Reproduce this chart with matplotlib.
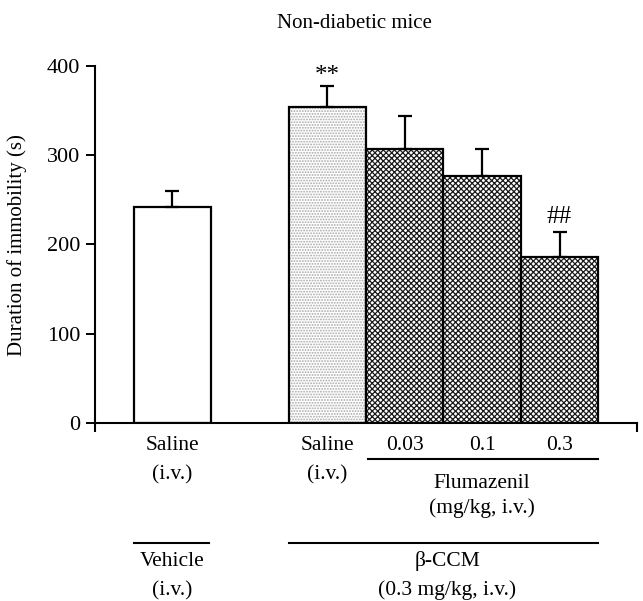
import matplotlib
matplotlib.use('Agg')
import matplotlib.pyplot as plt

plt.rcParams['font.family'] = ['Liberation Serif', 'DejaVu Serif']
plt.rcParams['hatch.linewidth'] = 0.9

# ---- data ----
positions = [0, 2, 3, 4, 5]
means = [242, 354, 307, 277, 186]
sems = [18, 24, 37, 30, 28]
tick_top = ['Saline', 'Saline', '0.03', '0.1', '0.3']
tick_bottom = ['(i.v.)', '(i.v.)', '', '', '']
marks = ['', '**', '', '', '##']
yticks = [0, 100, 200, 300, 400]

# ---- styling ----
hatches = ['', '......', 'xxxxxx', 'xxxxxx', 'xxxxxx']
hatch_colors = ['white', '#a8a8a8', '#1a1a1a', '#1a1a1a', '#1a1a1a']
mark_gap = {'**': 11, '##': 17}

fig = plt.figure(figsize=(6.43, 6.01), dpi=100)
ax = fig.add_axes([95/643, 178/601, 542/643, 357/601])

for x, m, h, hc in zip(positions, means, hatches, hatch_colors):
    ax.bar(x, m, width=1.0, color='white', edgecolor=hc, hatch=h, linewidth=0, zorder=2)
    ax.bar(x, m, width=1.0, color='none', edgecolor='black', linewidth=1.6, zorder=3)

ax.errorbar(positions, means, yerr=[[0]*len(sems), sems], fmt='none', ecolor='black',
            elinewidth=1.6, capsize=4.8, capthick=1.6, zorder=4)

for x, m, s, t in zip(positions, means, sems, marks):
    if t:
        ax.text(x, m + s + mark_gap[t], t, ha='center', va='center', fontsize=18)

ax.set_xlim(-1, 6)
ax.set_ylim(0, 400)
ax.set_yticks(yticks)
ax.set_xticks([])
ax.tick_params(axis='y', direction='out', length=6.5, width=1.4, labelsize=16, pad=4)
for side in ['top', 'right']:
    ax.spines[side].set_visible(False)
for side in ['left', 'bottom']:
    ax.spines[side].set_linewidth(1.5)

# small spine extensions
ax.plot([-1, -1], [0, -10], color='black', lw=1.5, clip_on=False, solid_capstyle='butt')
ax.plot([6, 6], [0, -10], color='black', lw=1.5, clip_on=False, solid_capstyle='butt')

ax.set_ylabel('Duration of immobility (s)', fontsize=15)
ax.yaxis.set_label_coords((27 - 95) / 542, (423 - 245) / 357)

tr = ax.get_xaxis_transform()

def ay(py):
    return (423 - py) / 357

fs = 15.5
for x, t1, t2 in zip(positions, tick_top, tick_bottom):
    ax.text(x, ay(450), t1, transform=tr, ha='center', va='baseline', fontsize=fs, clip_on=False)
    if t2:
        ax.text(x, ay(479), t2, transform=tr, ha='center', va='baseline', fontsize=fs, clip_on=False)

# Flumazenil group
ax.plot([2.53, 5.5], [ay(459)] * 2, transform=tr, color='black', lw=1.5, clip_on=False)
ax.text(4.0, ay(488), 'Flumazenil', transform=tr, ha='center', va='baseline', fontsize=fs)
ax.text(4.0, ay(513), '(mg/kg, i.v.)', transform=tr, ha='center', va='baseline', fontsize=fs)

# Vehicle group
ax.plot([-0.5, 0.47], [ay(543)] * 2, transform=tr, color='black', lw=1.5, clip_on=False)
ax.text(0, ay(566), 'Vehicle', transform=tr, ha='center', va='baseline', fontsize=fs)
ax.text(0, ay(595), '(i.v.)', transform=tr, ha='center', va='baseline', fontsize=fs)

# beta-CCM group
ax.plot([1.5, 5.5], [ay(543)] * 2, transform=tr, color='black', lw=1.5, clip_on=False)
ax.text(3.55, ay(566), 'β-CCM', transform=tr, ha='center', va='baseline', fontsize=fs)
ax.text(3.55, ay(595), '(0.3 mg/kg, i.v.)', transform=tr, ha='center', va='baseline', fontsize=fs)

fig.text(354/643, 1 - 23/601, 'Non-diabetic mice', ha='center', va='center', fontsize=15)

fig.savefig('out.png', dpi=100)
